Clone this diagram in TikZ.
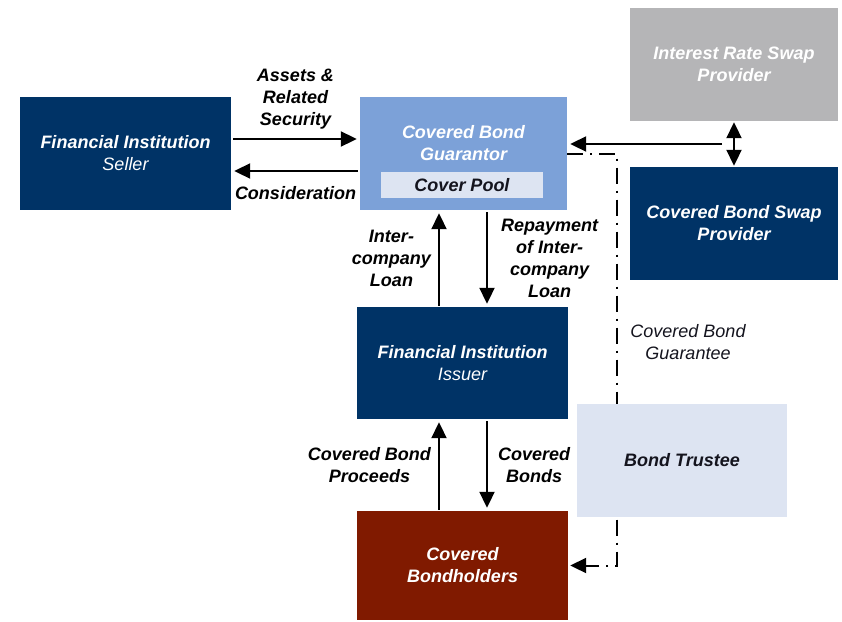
\documentclass[tikz,border=0pt]{standalone}
\usepackage{fontspec}
\setmainfont{Liberation Sans}
\usetikzlibrary{arrows.meta}

\definecolor{navy}{RGB}{0,51,102}
\definecolor{guablue}{RGB}{124,161,216}
\definecolor{swapgrey}{RGB}{181,181,183}
\definecolor{pale}{RGB}{221,228,242}
\definecolor{holdred}{RGB}{128,26,0}
\definecolor{ink}{RGB}{20,20,30}

\begin{document}
\begin{tikzpicture}[
    x=1pt, y=-1pt,
    >={Triangle[length=16pt,width=15pt]},
    txt/.style={align=center, font=\fontsize{18}{22}\selectfont\bfseries\itshape},
    box/.style={txt, minimum width=211pt, minimum height=113pt, inner sep=0pt, text=white},
    dark box/.style={box, fill=navy},
    flow/.style={line width=2pt, ->, shorten <=2pt, shorten >=3pt},
    flow label/.style={txt, inner sep=2pt, text=black},
    guarantee/.style={line width=2pt, ->, dash pattern=on 16pt off 7pt on 2pt off 7pt},
    every node/.style={color=black}
    ]
    \useasboundingbox (0,0) rectangle (842,621);

    % boxes
    \node[dark box] (seller) at (125.5,153.5) {Financial Institution\\{\mdseries Seller}};
    \node[box, fill=guablue, minimum width=207pt] (gua) at (463.5,153.5) {};
    \node[txt, text=white] (guatext) at (463.5,143) {Covered Bond\\Guarantor};
    \node[txt, fill=pale, text=ink, minimum width=162pt, minimum height=26pt, inner sep=0pt] (pool) at (462,185) {Cover Pool};
    \node[box, fill=swapgrey, minimum width=208pt] (irs) at (734,64.5) {Interest Rate Swap\\Provider};
    \node[dark box, minimum width=208pt] (cbsp) at (734,223.5) {Covered Bond Swap\\Provider};
    \node[dark box, minimum height=112pt] (iss) at (462.5,363) {Financial Institution\\{\mdseries Issuer}};
    \node[box, fill=holdred, minimum height=109pt] (bh) at (462.5,565.5) {Covered\\Bondholders};

    % seller <-> guarantor
    \draw[flow] ([yshift=14.5]seller.east) -- ([yshift=14.5]seller.east -| gua.west)
        node[midway, above=7pt, flow label] (assets) {Assets \&\\Related\\Security};
    \draw[flow] ([yshift=-17.5]gua.west) -- ([yshift=-17.5]gua.west -| seller.east)
        node[midway, below=12pt, flow label] (consid) {Consideration};

    % swaps
    \coordinate (swapjoin) at (722,144);
    \draw[flow, shorten <=0pt] (swapjoin) -- (swapjoin -| gua.east);
    \draw[line width=2pt, <->, shorten <=1pt, shorten >=1pt] (irs.south) -- (cbsp.north);

    % intercompany loan
    \draw[flow, shorten <=1pt] ([xshift=-23.5]iss.north) -- ([xshift=-23.5]iss.north |- gua.south)
        node[midway, left=5pt, flow label] (loan) {Inter-\\company\\Loan};
    \draw[flow] ([xshift=24.5]iss.north |- gua.south) -- ([xshift=24.5]iss.north)
        node[midway, right=11pt, flow label] (repay) {Repayment\\of Inter-\\company\\Loan};

    % issuer <-> bondholders
    \draw[flow, shorten <=1pt] ([xshift=-23.5]bh.north) -- ([xshift=-23.5]iss.south)
        node[midway, left=5pt, flow label] (proceeds) {Covered Bond\\Proceeds};
    \draw[flow] ([xshift=24.5]iss.south) -- ([xshift=24.5]bh.north)
        node[midway, right=8pt, flow label] (bonds) {Covered\\Bonds};

    % guarantee line, runs behind the trustee
    \draw[guarantee, shorten >=2pt] (gua.east) -- ++(50,0) |- (bh.east);
    \node[align=center, font=\fontsize{18}{22}\selectfont\itshape, text=ink] (gtee) at (688,342) {Covered Bond\\Guarantee};
    \node[box, fill=pale, text=ink, minimum width=210pt] (trustee) at (682,460.5) {Bond Trustee};

\end{tikzpicture}
\end{document}
